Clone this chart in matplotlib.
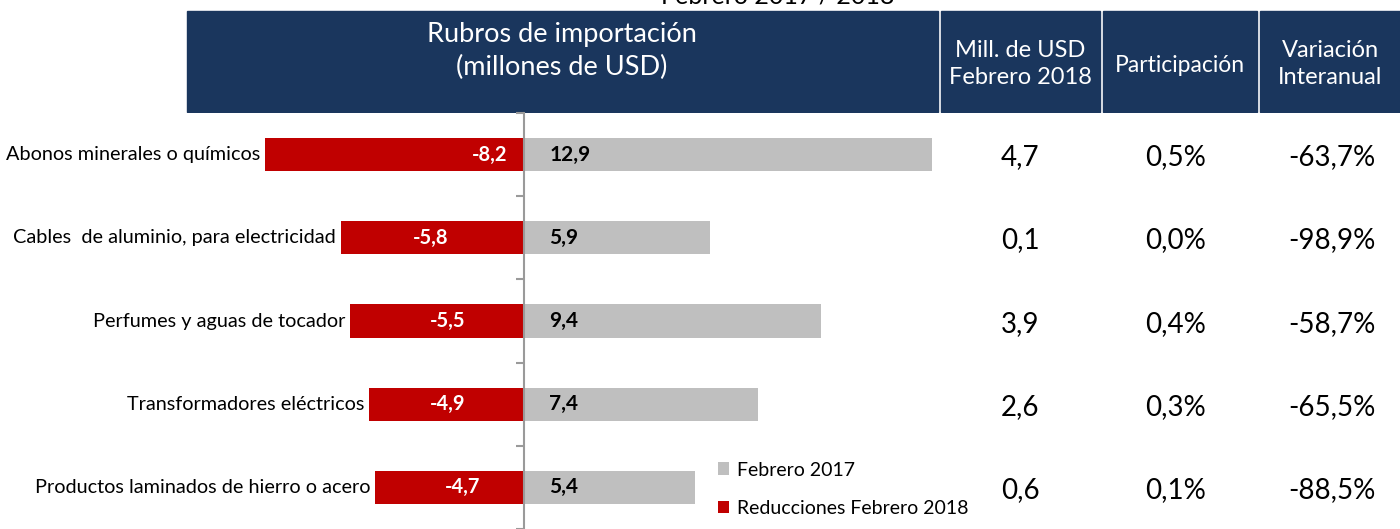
import matplotlib.pyplot as plt
from matplotlib.patches import Rectangle

plt.rcParams['font.family'] = ['Lato', 'DejaVu Sans']

# datos
rubros = [
    "Abonos minerales o químicos",
    "Cables  de aluminio, para electricidad",
    "Perfumes y aguas de tocador",
    "Transformadores eléctricos",
    "Productos laminados de hierro o acero",
]
feb_2017 = [12.9, 5.9, 9.4, 7.4, 5.4]
reducciones = [-8.2, -5.8, -5.5, -4.9, -4.7]
mill_2018 = ["4,7", "0,1", "3,9", "2,6", "0,6"]
participacion = ["0,5%", "0,0%", "0,4%", "0,3%", "0,1%"]
variacion = ["-63,7%", "-98,9%", "-58,7%", "-65,5%", "-88,5%"]

# where the red labels sit inside their bars (data units)
red_lbl_x = [-1.08, -2.97, -2.41, -2.41, -1.93]

W, H = 1400, 529
NAVY = "#1A365D"
RED = "#C00000"
GRAY = "#BFBFBF"


def fx(px):
    return px / W


def fy(py):
    # py counted from the top
    return 1 - py / H


fig = plt.figure(figsize=(W / 100, H / 100), dpi=100)

# bar area: zero at x=524 px, 31.6 px per million
zero_px, scale = 524, 31.6
ax = fig.add_axes([0, 0, 1, fy(113)])
ax.set_xlim(-zero_px / scale, (W - zero_px) / scale)
ax.set_ylim(4.5, -0.5)

pos = range(len(rubros))
ax.barh(pos, feb_2017, height=0.4, color=GRAY, label="Febrero 2017")
ax.barh(pos, reducciones, height=0.4, color=RED, label="Reducciones Febrero 2018")

for i in pos:
    ax.text(reducciones[i] - 0.15, i, rubros[i], ha="right", va="center", fontsize=14.3)
    ax.text(red_lbl_x[i], i, f"{reducciones[i]:.1f}".replace(".", ","),
            ha="center", va="center", color="white", fontsize=14.5, fontweight="bold")
    ax.text(0.8, i, f"{feb_2017[i]:.1f}".replace(".", ","),
            ha="left", va="center", color="black", fontsize=15, fontweight="bold")

for s in ["top", "right", "bottom"]:
    ax.spines[s].set_visible(False)
ax.spines["left"].set_position(("data", 0))
ax.spines["left"].set_color("#9A9A9A")
ax.spines["left"].set_linewidth(1.5)
ax.set_yticks([-0.5, 0.5, 1.5, 2.5, 3.5, 4.5])
ax.set_yticklabels([])
ax.tick_params(axis="y", direction="out", length=6, color="#9A9A9A", width=1.5)
ax.set_xticks([])

handles, labels = ax.get_legend_handles_labels()
ax.legend(handles, labels, loc="upper left", bbox_to_anchor=(fx(700), (529 - 444) / (529 - 113)),
          frameon=False, fontsize=14, handlelength=0.6, handleheight=0.6,
          handletextpad=0.4, labelspacing=1.1)

# header boxes
boxes = [(187, 938), (941, 1100), (1103, 1257), (1260, 1400)]
for x0, x1 in boxes:
    fig.add_artist(Rectangle((fx(x0), fy(112)), fx(x1 - x0), (112 - 11.5) / H,
                             transform=fig.transFigure, color=NAVY, zorder=0))

fig.text(fx(562), fy(51), "Rubros de importación\n(millones de USD)", color="white",
         ha="center", va="center", fontsize=19.5, linespacing=1.35)
fig.text(fx(1020), fy(64), "Mill. de USD\nFebrero 2018", color="white",
         ha="center", va="center", fontsize=17, linespacing=1.4)
fig.text(fx(1180), fy(65), "Participación", color="white",
         ha="center", va="center", fontsize=16.5)
fig.text(fx(1330), fy(64), "Variación\nInteranual", color="white",
         ha="center", va="center", fontsize=17, linespacing=1.4)

# title cut at the top of the image
fig.text(fx(778), fy(4), "Febrero 2017 / 2018", ha="center", va="baseline", fontsize=18)

# right-hand columns
for i in pos:
    yy = fy(157 + i * 83.3)
    fig.text(fx(1020), yy, mill_2018[i], ha="center", va="center", fontsize=20)
    fig.text(fx(1176), yy, participacion[i], ha="center", va="center", fontsize=20)
    fig.text(fx(1332), yy, variacion[i], ha="center", va="center", fontsize=20)

fig.savefig("out.png", dpi=100)
